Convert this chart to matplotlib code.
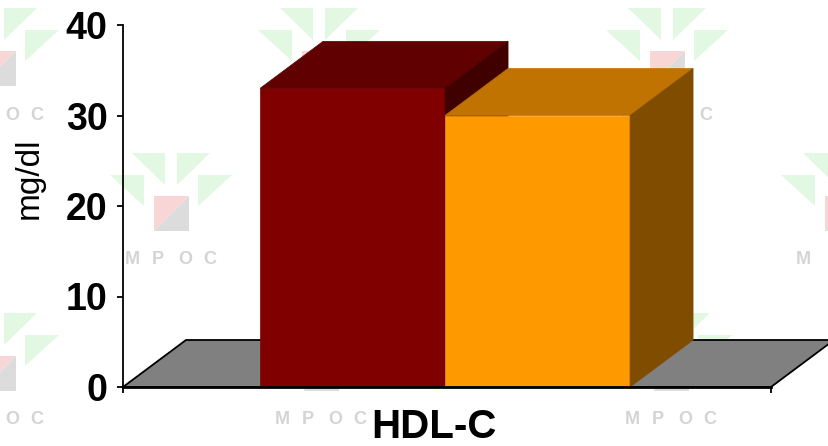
import matplotlib
matplotlib.use("Agg")
import matplotlib.pyplot as plt
from matplotlib.patches import Polygon

plt.rcParams['font.family'] = ['Liberation Sans', 'DejaVu Sans']

# ---- data ----
categories = ["HDL-C"]
series_values = [33.0, 30.0]
y_ticks = [0, 10, 20, 30, 40]
y_label = "mg/dl"

# ---- styling ----
front_colors = ["#800000", "#ff9900"]
top_colors = ["#600000", "#c07300"]
side_colors = ["#400000", "#804d00"]
floor_color = "#808080"

W, H = 829, 446
fig = plt.figure(figsize=(W / 100, H / 100), dpi=100)

# background layer in pixel units for the faint logo watermark
bg = fig.add_axes([0, 0, 1, 1], zorder=0)
bg.set_xlim(0, W)
bg.set_ylim(H, 0)
bg.axis("off")

def logo(cx, y0):
    green = "#e2f8e2"
    tris = [[(-39, 0), (-6, 0), (-6, 32)],
            [(6, 0), (39, 0), (6, 32)],
            [(-61, 22), (-27, 22), (-27, 53)],
            [(27, 22), (61, 22), (27, 53)]]
    for t in tris:
        bg.add_patch(Polygon([(cx + a, y0 + b) for a, b in t],
                             closed=True, fc=green, ec="none"))
    bg.add_patch(Polygon([(cx - 17, y0 + 43), (cx + 18, y0 + 43), (cx - 17, y0 + 78)],
                         closed=True, fc="#f8d6d6", ec="none"))
    bg.add_patch(Polygon([(cx + 18, y0 + 43), (cx + 18, y0 + 78), (cx - 17, y0 + 78)],
                         closed=True, fc="#dcdcdc", ec="none"))
    for off, ch in zip([-39, -13, 14, 39], "MPOC"):
        x = cx + off
        if 6 <= x <= W - 8:
            bg.text(x, y0 + 107, ch, ha="center", va="center",
                    fontsize=13, fontweight="bold", color="#d4d4d4")

for cx, y0 in [(-2, 8), (319, 8), (667, 8),
               (171, 153), (506, 153), (842, 153),
               (-2, 313), (321, 313), (671, 313)]:
    logo(cx, y0)

# main value axes
left_px, right_px, top_px, base_px = 123, 771, 25, 387
ax = fig.add_axes([left_px / W, (H - base_px) / H,
                   (right_px - left_px) / W, (base_px - top_px) / H], zorder=1)
ax.patch.set_alpha(0)
ax.set_xlim(0, 1)
ax.set_ylim(0, 40)

# depth of the 3D extrusion, converted from pixels to data units
depth_px_x, depth_px_y = 63, 47
dx = depth_px_x / (right_px - left_px)
dy = depth_px_y * 40 / (base_px - top_px)

# floor
ax.add_patch(Polygon([(0, 0), (1, 0), (1 + dx, dy), (dx, dy)], closed=True,
                     fc=floor_color, ec="black", lw=1.3, clip_on=False, zorder=1))

# bars
group_center = 0.497
bar_w = 0.2855
n = len(series_values)
x_start = group_center - n * bar_w / 2
for i, v in enumerate(series_values):
    x0 = x_start + i * bar_w
    x1 = x0 + bar_w
    ax.add_patch(Polygon([(x0, 0), (x1, 0), (x1, v), (x0, v)], closed=True,
                         fc=front_colors[i], ec=front_colors[i], lw=0.5,
                         clip_on=False, zorder=2 + i))
    ax.add_patch(Polygon([(x0, v), (x1, v), (x1 + dx, v + dy), (x0 + dx, v + dy)],
                         closed=True, fc=top_colors[i], ec=top_colors[i], lw=0.5,
                         clip_on=False, zorder=2 + i))
    ax.add_patch(Polygon([(x1, 0), (x1 + dx, dy), (x1 + dx, v + dy), (x1, v)],
                         closed=True, fc=side_colors[i], ec=side_colors[i], lw=0.5,
                         clip_on=False, zorder=2 + i))

# axes styling
for s in ["top", "right"]:
    ax.spines[s].set_visible(False)
ax.spines["left"].set_linewidth(1.3)
ax.spines["bottom"].set_linewidth(2.0)
ax.spines["bottom"].set_zorder(5)
ax.set_yticks(y_ticks)
ax.set_yticklabels([str(t) for t in y_ticks], fontsize=27, fontweight="bold")
ax.tick_params(axis="y", length=4, width=1.3, pad=7)
ax.set_xticks([0, 1])
ax.set_xticklabels(["", ""])
ax.tick_params(axis="x", length=4.5, width=1.3)

ax.text(0.48, -0.11, categories[0], transform=ax.transAxes, ha="center",
        va="center", fontsize=29, fontweight="bold")
fig.text(29 / W, 1 - 178 / H, y_label, rotation=90, ha="center", va="center",
         fontsize=24)

fig.savefig("out.png", dpi=100)
